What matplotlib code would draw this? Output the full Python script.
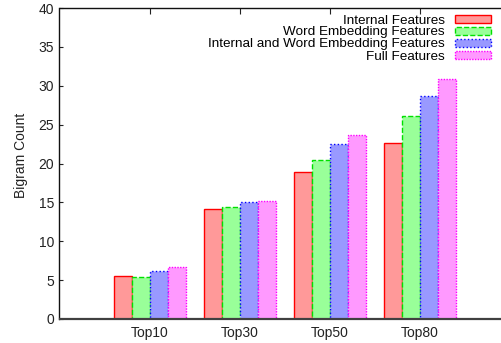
import numpy as np
import matplotlib
matplotlib.use('Agg')
import matplotlib.pyplot as plt

plt.rcParams['font.family'] = ['Liberation Sans', 'DejaVu Sans']

# Данные
categories = ['Top10', 'Top30', 'Top50', 'Top80']
series_names = ['Internal Features', 'Word Embedding Features',
                'Internal and Word Embedding Features', 'Full Features']
internal = [5.5, 14.1, 18.9, 22.6]
word_emb = [5.4, 14.4, 20.4, 26.1]
int_word = [6.2, 15.05, 22.5, 28.7]
full = [6.7, 15.2, 23.7, 30.9]

fills = ['#ff9999', '#99ff99', '#9999ff', '#ff99ff']
edges = ['#ff0000', '#00e000', '#0000ff', '#ff00ff']
styles = ['-', '--', ':', (0, (1, 1))]

fig = plt.figure(figsize=(5.02, 3.43), dpi=100)
ax = fig.add_axes([59.5 / 502, 24 / 343, 450 / 502, 311 / 343])

x = np.arange(len(categories))
w = 0.2
for i, vals in enumerate([internal, word_emb, int_word, full]):
    ax.bar(x + (i - 1.5) * w, vals, w, color=fills[i], edgecolor=edges[i],
           linestyle=styles[i], linewidth=1.0, label=series_names[i])

ax.set_xlim(-1, 4)
ax.set_ylim(0, 40)
ax.set_yticks(range(0, 41, 5))
ax.set_xticks(x)
ax.set_xticklabels(categories)
ax.tick_params(axis='both', labelsize=10, colors='#222222', direction='in')
ax.tick_params(axis='x', bottom=False, top=True, length=4, pad=5)
ax.tick_params(axis='y', length=3, pad=4)
ax.spines['right'].set_visible(False)
for s in ['left', 'top']:
    ax.spines[s].set_linewidth(1.0)
    ax.spines[s].set_color('#111111')
ax.spines['bottom'].set_linewidth(1.6)
ax.spines['bottom'].set_color('#404040')

ax.set_ylabel('Bigram Count', fontsize=10, color='#222222')
ax.yaxis.set_label_coords(-0.07, 0.527)

ax.legend(loc='upper right', bbox_to_anchor=(491 / 502, 1 - 14.5 / 343),
          bbox_transform=fig.transFigure, frameon=False, fontsize=9.7,
          markerfirst=False, borderpad=0, borderaxespad=0,
          handlelength=2.7, handleheight=0.52, handletextpad=0.75,
          labelspacing=0.0)

fig.savefig('out.png', dpi=100)
